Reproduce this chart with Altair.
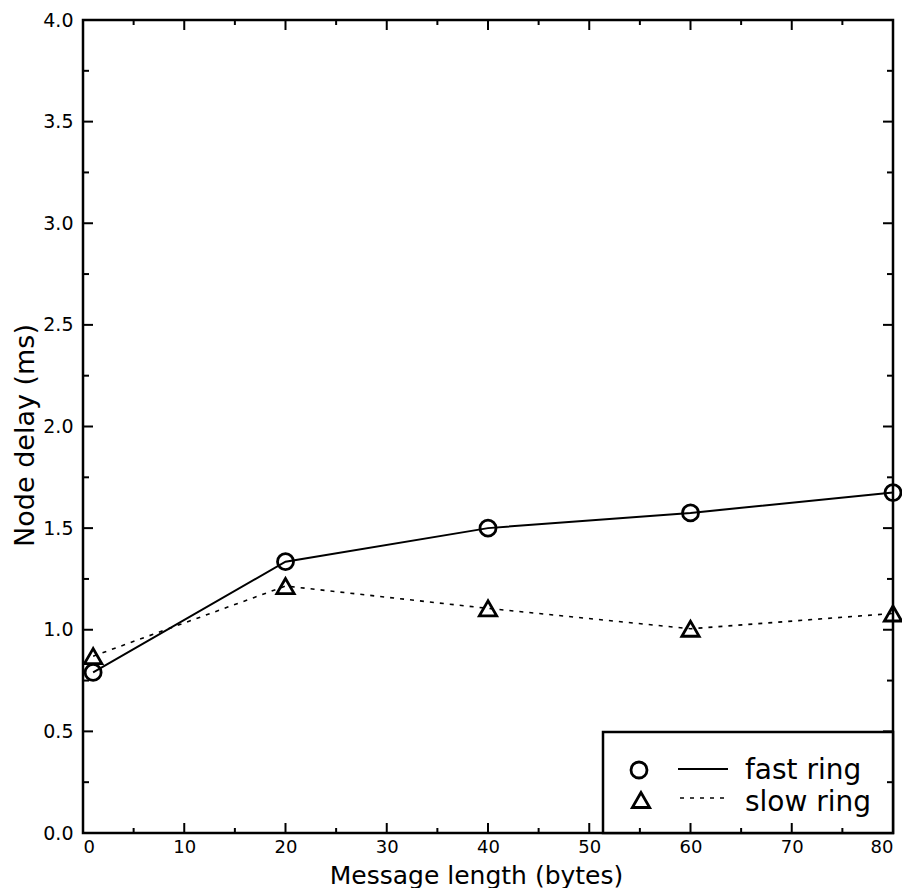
import altair as alt
import pandas as pd

# ---- data ----
msg_len = [1, 20, 40, 60, 80]
fast_ring = [0.79, 1.335, 1.50, 1.575, 1.675]
slow_ring = [0.87, 1.215, 1.105, 1.005, 1.08]

x_major = [0, 10, 20, 30, 40, 50, 60, 70, 80]
x_minor = [5, 15, 25, 35, 45, 55, 65, 75]
y_major = [0.0, 0.5, 1.0, 1.5, 2.0, 2.5, 3.0, 3.5, 4.0]
y_minor = [0.25, 0.75, 1.25, 1.75, 2.25, 2.75, 3.25, 3.75]

legend_labels = ["fast ring", "slow ring"]

FONT = "DejaVu Sans"
W, H = 810, 813

fast = pd.DataFrame({"x": msg_len, "y": fast_ring})
slow = pd.DataFrame({"x": msg_len, "y": slow_ring})

xs = alt.Scale(domain=[0, 80], nice=False, zero=False)
ys = alt.Scale(domain=[0, 4], nice=False, zero=False)

x_axis = alt.Axis(values=x_major, title="Message length (bytes)", grid=False,
                  domain=False, ticks=False, labelFontSize=18, labelPadding=5,
                  labelColor="black", labelFont=FONT, titleFont=FONT,
                  titleFontSize=25, titleFontWeight="normal", titleColor="black",
                  titleX=393, titleY=42, titleBaseline="middle", titleAlign="center")
y_axis = alt.Axis(values=y_major, format=".1f", title="Node delay (ms)", grid=False,
                  domain=False, ticks=False, labelFontSize=19, labelPadding=10,
                  labelColor="black", labelFont=FONT, titleFont=FONT,
                  titleFontSize=27, titleFontWeight="normal", titleColor="black",
                  titleAngle=-90, titleX=-58, titleY=415, titleBaseline="middle",
                  titleAlign="center")

fast_line = alt.Chart(fast).mark_line(color="black", strokeWidth=2).encode(
    x=alt.X("x:Q", scale=xs, axis=x_axis),
    y=alt.Y("y:Q", scale=ys, axis=y_axis),
)
slow_line = alt.Chart(slow).mark_line(color="black", strokeWidth=1.6,
                                      strokeDash=[4, 6]).encode(
    x=alt.X("x:Q", scale=xs),
    y=alt.Y("y:Q", scale=ys),
)
fast_pts = alt.Chart(fast).mark_point(shape="circle", size=256, filled=False,
                                      color="black", strokeWidth=2.8, opacity=1).encode(
    x=alt.X("x:Q", scale=xs),
    y=alt.Y("y:Q", scale=ys),
)
slow_pts = alt.Chart(slow).mark_point(shape="triangle-up", size=300, filled=False,
                                      color="black", strokeWidth=2.8, opacity=1).encode(
    x=alt.X("x:Q", scale=xs),
    y=alt.Y("y:Q", scale=ys),
)

# ---- inward tick marks on all four sides ----
def xticks(vals, length):
    d = pd.DataFrame({"x": vals})
    bottom = alt.Chart(d).mark_rule(color="black", strokeWidth=2).encode(
        x=alt.X("x:Q", scale=xs), y=alt.value(H), y2=alt.value(H - length))
    top = alt.Chart(d).mark_rule(color="black", strokeWidth=2).encode(
        x=alt.X("x:Q", scale=xs), y=alt.value(0), y2=alt.value(length))
    return [bottom, top]

def yticks(vals, length):
    d = pd.DataFrame({"y": vals})
    left = alt.Chart(d).mark_rule(color="black", strokeWidth=2).encode(
        y=alt.Y("y:Q", scale=ys), x=alt.value(0), x2=alt.value(length))
    right = alt.Chart(d).mark_rule(color="black", strokeWidth=2).encode(
        y=alt.Y("y:Q", scale=ys), x=alt.value(W), x2=alt.value(W - length))
    return [left, right]

tick_layers = xticks(x_major, 10) + xticks(x_minor, 5) + yticks(y_major, 10) + yticks(y_minor, 6)

# ---- legend box (pixel positions inside the plot area) ----
one = pd.DataFrame({"k": [0]})
leg_box = alt.Chart(one).mark_rect(fill="white", stroke="black", strokeWidth=2.5).encode(
    x=alt.value(520), x2=alt.value(W), y=alt.value(712), y2=alt.value(H))
leg_circle = alt.Chart(one).mark_point(shape="circle", size=256, filled=False,
                                       color="black", strokeWidth=2.8, opacity=1).encode(
    x=alt.value(556), y=alt.value(750))
leg_tri = alt.Chart(one).mark_point(shape="triangle-up", size=300, filled=False,
                                    color="black", strokeWidth=2.8, opacity=1).encode(
    x=alt.value(558), y=alt.value(780))
leg_solid = alt.Chart(one).mark_rule(color="black", strokeWidth=2).encode(
    x=alt.value(595), x2=alt.value(645), y=alt.value(749))
leg_dash = alt.Chart(one).mark_rule(color="black", strokeWidth=1.6, strokeDash=[4, 6]).encode(
    x=alt.value(597), x2=alt.value(645), y=alt.value(778))
leg_t1 = alt.Chart(one).mark_text(text=legend_labels[0], font=FONT, fontSize=28,
                                  align="left", baseline="alphabetic", color="black").encode(
    x=alt.value(662), y=alt.value(759))
leg_t2 = alt.Chart(one).mark_text(text=legend_labels[1], font=FONT, fontSize=28,
                                  align="left", baseline="alphabetic", color="black").encode(
    x=alt.value(662), y=alt.value(791))

chart = alt.layer(
    fast_line, slow_line, fast_pts, slow_pts,
    leg_box, leg_solid, leg_dash, leg_circle, leg_tri, leg_t1, leg_t2,
    *tick_layers,
).properties(
    width=W, height=H,
    autosize=alt.AutoSizeParams(type="none"),
    padding={"left": 75, "top": 12, "right": 9, "bottom": 55},
    background="white",
).configure_view(
    stroke="black", strokeWidth=2.5
).configure_axis(
    labelFont=FONT, labelColor="black",
    titleFont=FONT, titleFontWeight="normal", titleColor="black"
)

chart.save("out.html", embed_options={"renderer": "svg", "actions": False})
